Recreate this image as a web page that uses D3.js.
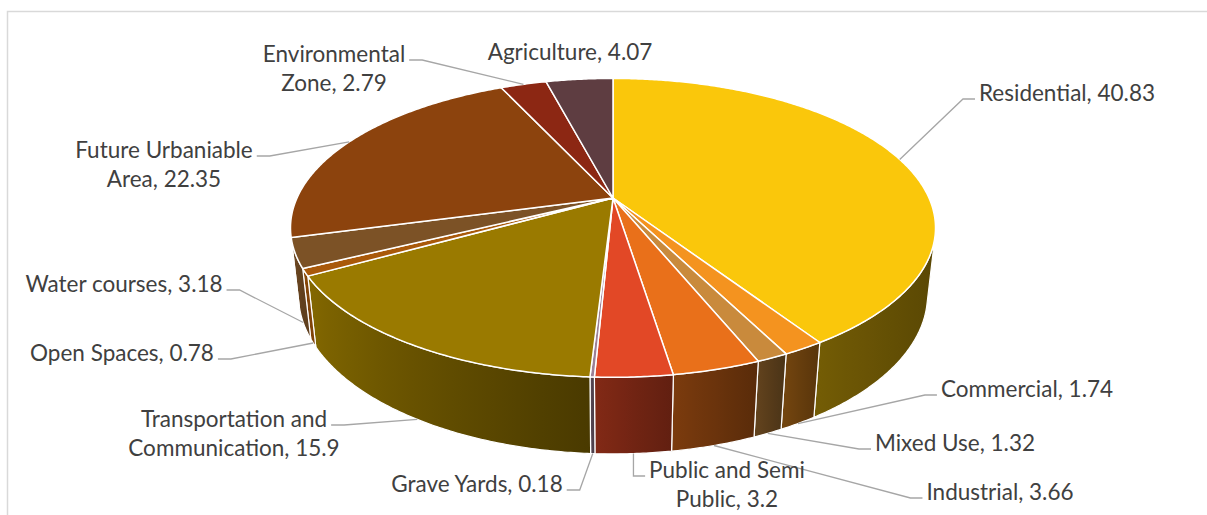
<!DOCTYPE html>
<html><head><meta charset="utf-8">
<script src="https://cdn.jsdelivr.net/npm/d3@7"></script>
<style>body{margin:0;background:#fff} svg{display:block}</style>
</head><body><svg id="c" width="1207" height="515"></svg>
<script>
// ---- data ----
const categories = ["Residential","Commercial","Mixed Use","Industrial","Public and Semi Public","Grave Yards","Transportation and Communication","Open Spaces","Water courses","Future Urbaniable Area","Environmental Zone","Agriculture"];
const values = [40.83,1.74,1.32,3.66,3.2,0.18,15.9,0.78,3.18,22.35,2.79,4.07];
const colors = ["#FAC70B","#F4931F","#C98A3C","#E9701A","#E24826","#9C8096","#9A7A00","#A9590A","#7C5226","#8C430D","#8C2713","#5E3D41"];
const labelBreak = [0,0,0,0,3,0,2,0,0,2,1,0];

// ---- layout (not data) ----
const labelPos = [[1067,101],[1027,397],[955,451],[1000,500],[727,478],[477,492],[234,427],[122,361],[124,292],[164,158],[334,62],[570,60]];
const leaderKind = ["h","h","h","h","v","h","h","h","h","h","h","none"];

const W = 1207, H = 515;
const svg = d3.select("#c");
svg.append("rect").attr("x",0).attr("y",0).attr("width",W).attr("height",H).attr("fill","#fff");
svg.append("rect").attr("x",7.5).attr("y",11.5).attr("width",1400).attr("height",700)
  .attr("fill","none").attr("stroke","#d9d9d9").attr("stroke-width",1.5);

// 3D perspective projection
const cx = 613, cy = 198, k = 316, phi = 27*Math.PI/180, D = 4.46, h = 0.24;
const sP = Math.sin(phi), cP = Math.cos(phi);
function proj(angDeg, y){
  const a = angDeg*Math.PI/180;
  const X = Math.sin(a), Z = -Math.cos(a);
  const Yp = y*cP - Z*sP, Zp = y*sP + Z*cP;
  const sc = D/(D - Zp);
  return [cx + k*X*sc, cy - k*Yp*sc];
}
const angScale = d3.scaleLinear().domain([0, 2*Math.PI]).range([0, 360]);
const arcs = d3.pie().sort(null).value(d=>d)(values);
const line = d3.line();

const visMin = Math.acos(-1/(D*cP))*180/Math.PI, visMax = 360 - visMin;
function rimPts(a0, a1, y){
  const n = Math.max(2, Math.ceil(Math.abs(a1-a0)/0.5));
  return d3.range(n+1).map(i => proj(a0 + (a1-a0)*i/n, y));
}
function light(ang){
  const th = ang - 90;
  return Math.min(1, 0.41 + 0.5*Math.pow(Math.max(0,(th-60)/110),1.2));
}
function shade(col, b){
  const c = d3.rgb(col);
  return d3.rgb(c.r*b, c.g*b, c.b*b).formatHex();
}

const defs = svg.append("defs");
const gWalls = svg.append("g"), gTops = svg.append("g"), gLab = svg.append("g");

arcs.forEach((d,i)=>{
  const s = angScale(d.startAngle), e = angScale(d.endAngle);
  const a0 = Math.max(s, visMin), a1 = Math.min(e, visMax);
  if (a1 > a0){
    const top = rimPts(a0, a1, 0), bot = rimPts(a1, a0, -h);
    const xR = proj(a0,0)[0], xL = proj(a1,0)[0];
    const gid = "wg"+i;
    const gr = defs.append("linearGradient").attr("id",gid).attr("gradientUnits","userSpaceOnUse")
      .attr("x1",xL).attr("x2",xR).attr("y1",0).attr("y2",0);
    const n = 8;
    d3.range(n+1).forEach(j=>{
      const ang = a1 - (a1-a0)*j/n;
      const x = proj(ang,0)[0];
      const t = (x - xL)/Math.max(1e-6, xR - xL);
      const b = light(ang) + 0.05*(1 - 2*t);
      gr.append("stop").attr("offset", Math.max(0,Math.min(1,t))).attr("stop-color", shade(colors[i], b));
    });
    gWalls.append("path").attr("d", line(top.concat(bot)) + "Z")
      .attr("fill","url(#"+gid+")").attr("stroke","#fff").attr("stroke-width",1.2).attr("stroke-linejoin","round");
  }
});
arcs.forEach((d,i)=>{
  const s = angScale(d.startAngle), e = angScale(d.endAngle);
  const pts = [[cx,cy]].concat(rimPts(s, e, 0));
  gTops.append("path").attr("d", line(pts)+"Z").attr("fill", colors[i])
    .attr("stroke","#fff").attr("stroke-width",1.5).attr("stroke-linejoin","round");
});

// labels
const fontSize = 22.5, lineH = 28.5;
arcs.forEach((d,i)=>{
  const mid = angScale((d.startAngle + d.endAngle)/2);
  const anchor = (mid > visMin && mid < visMax) ? proj(mid, -h) : proj(mid, 0);
  const full = categories[i] + ", " + values[i];
  let lines = [full];
  if (labelBreak[i] > 0){
    const words = full.split(" ");
    lines = [words.slice(0,labelBreak[i]).join(" "), words.slice(labelBreak[i]).join(" ")];
  }
  const [lx, ly] = labelPos[i];
  const t = gLab.append("text").attr("font-family","Lato, 'Open Sans', sans-serif")
    .attr("font-size",fontSize).attr("fill","#404040").attr("text-anchor","middle");
  lines.forEach((L,j)=> t.append("tspan").attr("x",lx).attr("y",ly + j*lineH).text(L));
  const w0 = t.select("tspan").node().getComputedTextLength();
  const ylead = ly - 2;
  let pts = null;
  if (leaderKind[i] === "h"){
    if (anchor[0] > lx){
      const x0 = lx + w0/2 + 4;
      pts = [[x0, ylead],[x0+13, ylead], anchor];
    } else {
      const x0 = lx - w0/2 - 4;
      pts = [[x0, ylead],[x0-12, ylead], anchor];
    }
  } else if (leaderKind[i] === "v"){
    const x0 = lx - w0/2 - 4;
    pts = [[x0, ylead],[anchor[0], ylead], anchor];
  }
  if (pts) gLab.insert("path","text").attr("d", line(pts)).attr("fill","none")
    .attr("stroke","#A6A6A6").attr("stroke-width",1.3);
});
</script></body></html>
